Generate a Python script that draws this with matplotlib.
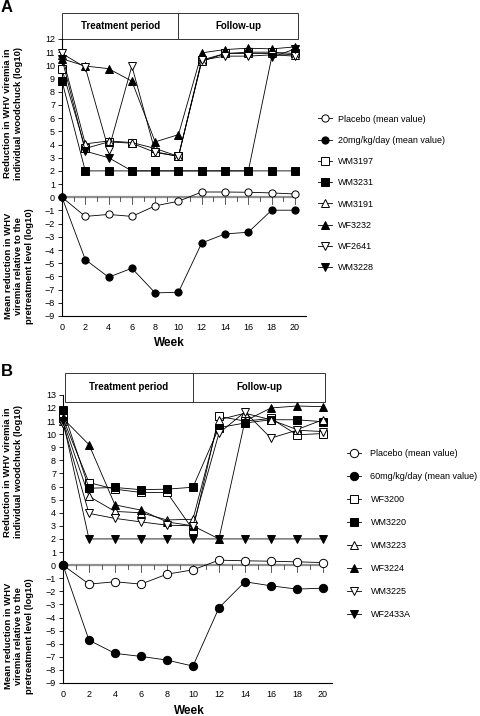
import matplotlib.pyplot as plt
from matplotlib.lines import Line2D
from matplotlib.patches import Rectangle

plt.rcParams['font.family'] = ['Liberation Sans', 'DejaVu Sans']

weeks = [0, 2, 4, 6, 8, 10, 12, 14, 16, 18, 20]

# panel A
a_placebo = [0, -1.45, -1.3, -1.45, -0.65, -0.3, 0.4, 0.4, 0.38, 0.33, 0.25]
a_dose = [0, -4.72, -6.06, -5.38, -7.25, -7.2, -3.46, -2.78, -2.65, -0.98, -0.98]
a_wm3197 = [9.7, 3.7, 4.2, 4.1, 3.4, 3.1, 10.4, 10.9, 11.0, 11.0, 10.9]
a_wm3231 = [8.8, 2, 2, 2, 2, 2, 2, 2, 2, 2, 2]
a_wm3191 = [10.8, 4.05, 4.27, 4.15, 3.7, 3.1, 10.3, 10.9, 10.9, 10.9, 10.8]
a_wf3232 = [10.5, 9.95, 9.75, 8.8, 4.2, 4.75, 10.95, 11.2, 11.3, 11.25, 11.4]
a_wf2641 = [10.9, 9.85, 3.6, 9.95, 3.45, 3.1, 10.4, 10.7, 10.7, 10.8, 10.7]
a_wm3228 = [10.5, 3.5, 3.0, 2, 2, 2, 2, 2, 2, 10.6, 11.25]
a_labels = ['Placebo (mean value)', '20mg/kg/day (mean value)', 'WM3197',
            'WM3231', 'WM3191', 'WF3232', 'WF2641', 'WM3228']

# panel B
b_placebo = [0, -1.45, -1.27, -1.45, -0.69, -0.36, 0.38, 0.33, 0.3, 0.25, 0.2]
b_dose = [0, -5.73, -6.74, -6.97, -7.25, -7.71, -3.26, -1.27, -1.58, -1.83, -1.76]
b_wf3200 = [11.2, 6.3, 5.8, 5.55, 5.55, 2.7, 11.35, 11.0, 11.2, 9.95, 10.05]
b_wm3220 = [11.85, 5.87, 5.93, 5.76, 5.8, 5.95, 10.5, 10.85, 11.1, 11.1, 10.95]
b_wm3223 = [11.0, 5.25, 4.1, 4.0, 3.45, 3.5, 11.1, 11.6, 11.1, 10.35, 11.1]
b_wf3224 = [11.2, 9.2, 4.6, 4.2, 3.3, 3.0, 2.0, 11.0, 12.0, 12.15, 12.1]
b_wm3225 = [10.8, 3.95, 3.57, 3.3, 3.05, 3.0, 10.07, 11.7, 9.7, 10.3, 10.2]
b_wf2433a = [11.0, 2, 2, 2, 2, 2, 2, 2, 2, 2, 2]
b_labels = ['Placebo (mean value)', '60mg/kg/day (mean value)', 'WF3200',
            'WM3220', 'WM3223', 'WF3224', 'WM3225', 'WF2433A']

styles = [('o', 'white'), ('o', 'black'), ('s', 'white'), ('s', 'black'),
          ('^', 'white'), ('^', 'black'), ('v', 'white'), ('v', 'black')]

W, H = 480, 716
fig = plt.figure(figsize=(4.8, 7.16), dpi=100)


def px_axes(left, top, right, bottom):
    return fig.add_axes([left / W, 1 - bottom / H, (right - left) / W, (bottom - top) / H])


def panel(ax, series, labels, xmax, ymax, ytop, box, ms, leg_xy, leg_sp, leg_pad, xlab_x):
    ax.set_xlim(0, xmax)
    ax.set_ylim(-9, ymax)
    for sp in ['top', 'right']:
        ax.spines[sp].set_visible(False)
    ax.spines['left'].set_bounds(-9, ytop)
    ax.spines['left'].set_linewidth(0.8)
    ax.spines['bottom'].set_linewidth(0.8)
    ax.set_yticks(range(-9, ytop + 1))
    ax.set_xticks(weeks)
    ax.tick_params(axis='y', length=3, width=0.6, labelsize=6.5, pad=2)
    ax.tick_params(axis='x', length=0, labelsize=6.5, pad=5)
    ax.set_xlabel('Week', fontsize=8.5, fontweight='bold')
    ax.xaxis.set_label_coords(xlab_x, -0.07)

    # zero line with week ticks
    ax.plot([0, 20], [0, 0], color='#909090', lw=1.6, zorder=1)
    tick_len = (ymax + 9) / 300.0
    for wk in range(0, 21):
        d = 7 * tick_len if wk % 2 == 0 else 4 * tick_len
        ax.plot([wk, wk], [0, -d], color='#404040', lw=0.6, zorder=1)

    # period box
    bx0, bx1, by0, by1 = box
    ax.add_patch(Rectangle((bx0, by0), bx1 - bx0, by1 - by0, fill=False,
                           lw=0.7, edgecolor='#333333', clip_on=False))
    ax.plot([10, 10], [by0, by1], color='#333333', lw=0.7, clip_on=False)
    ym = (by0 + by1) / 2
    ax.text((bx0 + 10) / 2, ym, 'Treatment period', ha='center', va='center',
            fontsize=7, fontweight='bold')
    ax.text((10 + bx1) / 2, ym, 'Follow-up', ha='center', va='center',
            fontsize=7, fontweight='bold')

    handles = []
    order = [2, 3, 4, 5, 6, 7, 0, 1]
    for i in order:
        m, fc = styles[i]
        ax.plot(weeks, series[i], color='black', lw=0.6, marker=m, ms=ms,
                mfc=fc, mec='black', mew=0.7, clip_on=False, zorder=3)
    for i in range(8):
        m, fc = styles[i]
        handles.append(Line2D([], [], color='black', lw=0.6, marker=m, ms=ms,
                              mfc=fc, mec='black', mew=0.7))
    fig.legend(handles, labels, loc='upper left',
               bbox_to_anchor=(leg_xy[0] / W, 1 - leg_xy[1] / H),
               frameon=False, fontsize=6.5, handlelength=1.6, handletextpad=leg_pad,
               labelspacing=leg_sp, borderpad=0, borderaxespad=0)


ax_a = px_axes(62, 13, 306, 316)
panel(ax_a, [a_placebo, a_dose, a_wm3197, a_wm3231, a_wm3191, a_wf3232, a_wf2641, a_wm3228],
      a_labels, 20.95, 13.97, 12, (0, 20.26, 12, 13.97), 5.2, (318, 114.5), 1.36, 0.66, 0.44)

ax_b = px_axes(63, 373, 332, 683)
panel(ax_b, [b_placebo, b_dose, b_wf3200, b_wm3220, b_wm3223, b_wf3224, b_wm3225, b_wf2433a],
      b_labels, 20.7, 14.67, 13, (0.15, 20.15, 12.46, 14.67), 6, (347, 449.5), 1.54, 1.0, 0.47)

# axis titles
upper = 'Reduction in WHV viremia in\nindividual woodchuck (log10)'
lower = 'Mean reduction in WHV\nviremia relative to the\npretreatment level (log10)'
for txt, x, y in [(upper, 13, 113), (lower, 19, 266), (upper, 13, 472), (lower, 19, 636)]:
    fig.text(x / W, 1 - y / H, txt, rotation=90, ha='center', va='center',
             fontsize=6.8, fontweight='bold', multialignment='center')

fig.text(1 / W, 1 - 8 / H, 'A', fontsize=12, fontweight='bold', va='center', ha='left')
fig.text(1 / W, 1 - 371 / H, 'B', fontsize=12, fontweight='bold', va='center', ha='left')

fig.savefig('out.png', dpi=100)
